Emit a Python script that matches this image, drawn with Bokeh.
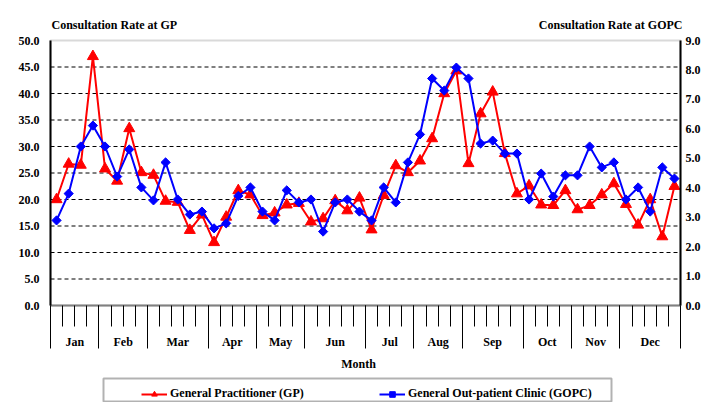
from bokeh.plotting import figure
from bokeh.models import (Range1d, LinearAxis, FixedTicker, Label, Legend, LegendItem,
                          PrintfTickFormatter, BoxAnnotation)
from bokeh.embed import file_html
from bokeh.resources import INLINE

months = ["Jan", "Feb", "Mar", "Apr", "May", "Jun", "Jul", "Aug", "Sep", "Oct", "Nov", "Dec"]
weeks_per_month = [4, 4, 5, 4, 4, 5, 4, 4, 5, 4, 4, 5]
weeks = list(range(1, 53))

gp = [20.0, 26.7, 26.5, 47.0, 25.8, 23.5, 33.4, 25.1, 24.6, 19.7,
      19.5, 14.2, 17.1, 11.9, 16.7, 21.7, 20.9, 17.0, 17.5, 19.0,
      19.3, 15.8, 16.4, 19.8, 17.9, 20.3, 14.3, 20.8, 26.4, 25.1,
      27.3, 31.5, 40.0, 44.3, 26.8, 36.2, 40.3, 28.7, 21.1, 22.6,
      19.0, 18.9, 21.7, 18.1, 18.9, 20.9, 23.0, 19.1, 15.2, 20.0,
      13.0, 22.5]
gopc = [2.89, 3.80, 5.40, 6.11, 5.40, 4.38, 5.30, 4.01, 3.57, 4.86,
        3.60, 3.09, 3.19, 2.62, 2.79, 3.72, 4.01, 3.19, 2.89, 3.91,
        3.50, 3.60, 2.51, 3.50, 3.60, 3.19, 2.89, 4.01, 3.50, 4.86,
        5.81, 7.71, 7.30, 8.08, 7.71, 5.50, 5.60, 5.16, 5.16, 3.60,
        4.48, 3.70, 4.42, 4.42, 5.40, 4.69, 4.86, 3.60, 4.01, 3.19,
        4.69, 4.31]
left_ticks = [0, 5, 10, 15, 20, 25, 30, 35, 40, 45, 50]
right_ticks = [0, 1, 2, 3, 4, 5, 6, 7, 8, 9]

left_title = "Consultation Rate at GP"
right_title = "Consultation Rate at GOPC"
x_title = "Month"
gp_name = "General Practitioner (GP)"
gopc_name = "General Out-patient Clinic (GOPC)"

FONT = "Liberation Serif"
FS = "12px"

# ---- layout constants (pixels on the canvas) ----
W, H = 707, 402
PX_L, PX_R, PX_T, PX_B = 50, 680, 40, 305

bounds = [0]
for n in weeks_per_month:
    bounds.append(bounds[-1] + n)
centers = [(bounds[i] + bounds[i + 1]) / 2 for i in range(12)]
xs = [w - 0.5 for w in weeks]

X0, X1 = bounds[0], bounds[-1]
Y0, Y1 = left_ticks[0], left_ticks[-1]
R0, R1 = right_ticks[0], right_ticks[-1]
xsc = (PX_R - PX_L) / (X1 - X0)
ysc = (PX_B - PX_T) / (Y1 - Y0)
rsc = (PX_B - PX_T) / (R1 - R0)


def dx(px):
    return X0 + (px - PX_L) / xsc


def dy(px):
    return Y0 + (PX_B - px) / ysc


p = figure(width=W, height=H, output_backend="svg", toolbar_location=None,
           x_range=Range1d(dx(0), dx(W)), y_range=Range1d(dy(H), dy(0)),
           min_border_left=0, min_border_right=0, min_border_top=0, min_border_bottom=0)
p.extra_y_ranges = {"gopc": Range1d(R0 - (H - PX_B) / rsc, R1 + PX_T / rsc)}
p.outline_line_color = None
p.background_fill_color = "white"
p.border_fill_color = "white"
p.xgrid.visible = False
p.ygrid.visible = False

# plot-area border (gray)
p.add_layout(BoxAnnotation(left=X0, right=X1, bottom=Y0, top=Y1, fill_alpha=0,
                           line_color="#808080", line_width=2, level="underlay"))

# dashed horizontal gridlines
gl = left_ticks[1:-1]
p.segment(x0=[X0] * len(gl), x1=[X1] * len(gl), y0=gl, y1=gl,
          line_color="black", line_width=1, line_dash="4 3")

# left axis
ya = p.yaxis[0]
ya.fixed_location = X0
ya.bounds = (Y0, Y1)
ya.ticker = FixedTicker(ticks=left_ticks)
ya.formatter = PrintfTickFormatter(format="%.1f")
ya.axis_line_color = "black"
ya.axis_line_width = 2
ya.major_tick_in = 0
ya.major_tick_out = 0
ya.minor_tick_line_color = None
ya.major_label_text_font = FONT
ya.major_label_text_font_style = "bold"
ya.major_label_text_font_size = FS
ya.major_label_text_color = "black"
ya.major_label_standoff = 11

# right axis
ry = LinearAxis(y_range_name="gopc", ticker=FixedTicker(ticks=right_ticks),
                formatter=PrintfTickFormatter(format="%.1f"))
ry.fixed_location = X1
ry.bounds = (R0, R1)
ry.axis_line_color = "black"
ry.axis_line_width = 2
ry.major_tick_in = 0
ry.major_tick_out = 0
ry.minor_tick_line_color = None
ry.major_label_text_font = FONT
ry.major_label_text_font_style = "bold"
ry.major_label_text_font_size = FS
ry.major_label_text_color = "black"
ry.major_label_standoff = 5
p.add_layout(ry, "right")

# x axis: week ticks and month boundaries
xa = p.xaxis[0]
xa.fixed_location = Y0
xa.bounds = (X0, X1)
xa.ticker = FixedTicker(ticks=bounds, minor_ticks=list(range(X0, X1 + 1)))
xa.major_label_overrides = {b: "" for b in bounds}
xa.major_label_text_font_size = "1px"
xa.axis_line_color = "#808080"
xa.axis_line_width = 2
xa.major_tick_out = 43
xa.major_tick_in = 0
xa.minor_tick_out = 21
xa.minor_tick_in = 0
xa.major_tick_line_color = "black"
xa.minor_tick_line_color = "black"

# series
l1 = p.line(xs, gp, line_color="#FF0000", line_width=2)
m1 = p.scatter(xs, gp, marker="triangle", size=11, fill_color="#FF0000", line_color="#FF0000")
l2 = p.line(xs, gopc, line_color="#0000FF", line_width=2, y_range_name="gopc")
m2 = p.scatter(xs, gopc, marker="square", angle=0.785398, size=6.5, fill_color="#0000FF",
               line_color="#0000FF", y_range_name="gopc")


def lab(x, y, t, align="center", base="middle"):
    p.add_layout(Label(x=x, y=y, text=t, text_font=FONT, text_font_style="bold",
                       text_font_size=FS, text_color="black", text_align=align,
                       text_baseline=base))


for c, m in zip(centers, months):
    lab(c, dy(341.5), m)
lab(dx(358), dy(363.5), x_title)
lab(dx(51), dy(24), left_title, align="left")
lab(dx(682), dy(24), right_title, align="right")

# legend
legend = Legend(items=[LegendItem(label=gp_name, renderers=[l1, m1]),
                       LegendItem(label=gopc_name, renderers=[l2, m2])],
                orientation="horizontal")
legend.label_text_font = FONT
legend.label_text_font_style = "bold"
legend.label_text_font_size = FS
legend.label_text_color = "black"
legend.label_width = 180
legend.label_standoff = 3
legend.glyph_width = 26
legend.glyph_height = 14
legend.label_height = 14
legend.spacing = 29
legend.padding = 4
legend.margin = 0
legend.border_line_color = None
legend.background_fill_alpha = 0
legend.location = (145 - 4, H - 401)
p.add_layout(legend, "center")

p.add_layout(BoxAnnotation(left=dx(103), right=dx(611), bottom=dy(401), top=dy(378),
                           fill_alpha=0, line_color="black", line_width=2))

open("out.html", "w").write(file_html(p, INLINE))
